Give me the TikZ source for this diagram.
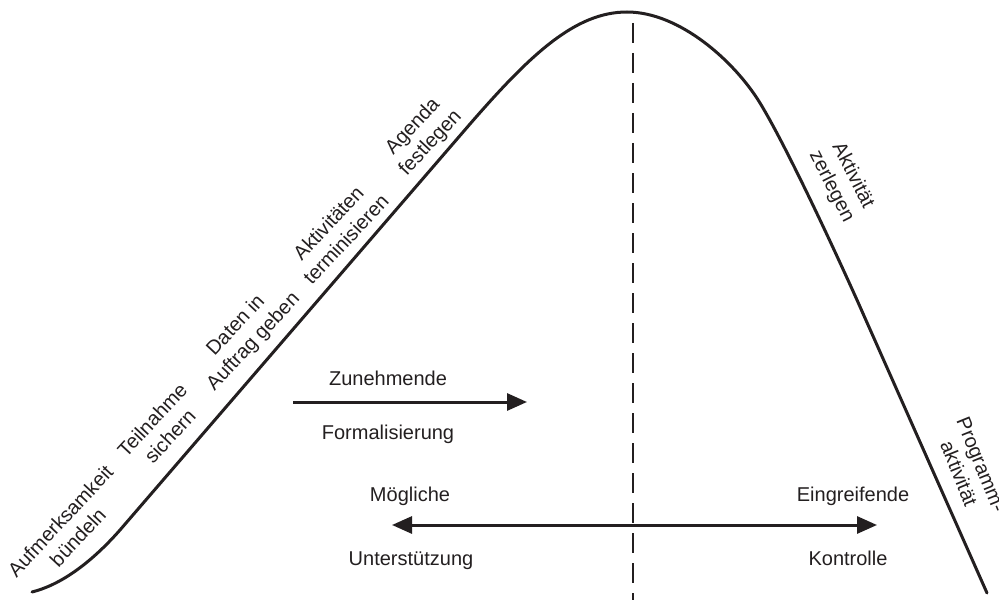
\documentclass[tikz,border=0pt]{standalone}
\usepackage{fontspec}
\setmainfont{Liberation Sans}
\usetikzlibrary{arrows.meta}
\definecolor{ink}{RGB}{35,31,32}
\begin{document}
\begin{tikzpicture}[x=1bp,y=-1bp,
  font=\fontsize{20bp}{24bp}\selectfont,
  curve/.style={line width=3bp, draw=ink, line join=round, line cap=round},
  arr/.style={line width=3bp, draw=ink, -{Triangle[length=20bp,width=17bp]}},
  darr/.style={line width=3bp, draw=ink, {Triangle[length=20bp,width=17bp]}-{Triangle[length=20bp,width=17bp]}},
  midline/.style={line width=2bp, draw=ink, dash pattern=on 20bp off 10bp},
  lbl/.style={text=ink, inner sep=0pt},
  slopelbl/.style={lbl, align=center}]
\useasboundingbox (0,0) rectangle (999,600);

% curve
\coordinate (c0) at (32,592);
\coordinate (c1) at (120,530);
\coordinate (c2) at (470,124);
\coordinate (peak) at (627,12);
\coordinate (c3) at (760,103);
\coordinate (c4) at (857,300);
\coordinate (c5) at (987,593);
\draw[curve] (c0) .. controls (60,585) and (90,564) .. (c1) -- (c2)
  .. controls (530,55) and (575,12) .. (peak)
  .. controls (680,12) and (735,62) .. (c3)
  .. controls (785,144) and (830,240) .. (c4) -- (c5);

% dashed centre line
\coordinate (dtop) at (633,23);
\coordinate (dbot) at (633,600);
\draw[midline] (dtop) -- (dbot);

% arrows
\coordinate (fA) at (293,402);
\coordinate (fB) at (527,402);
\draw[arr] (fA) -- (fB);
\coordinate (sA) at (392,525);
\coordinate (sB) at (877,525);
\draw[darr] (sA) -- (sB);

% horizontal labels
\node[lbl, anchor=base] (zun) at (388,385) {Zunehmende};
\node[lbl, anchor=base] (form) at (388,439) {Formalisierung};
\node[lbl, anchor=base] (moeg) at (410,501) {Mögliche};
\node[lbl, anchor=base] (unt) at (411,565) {Unterstützung};
\node[lbl, anchor=base] (eing) at (853,501) {Eingreifende};
\node[lbl, anchor=base] (kont) at (848,565) {Kontrolle};

% slope labels
\node[slopelbl, rotate=47] (l1) at (69,529) {Aufmerksamkeit\\bündeln};
\node[slopelbl, rotate=47] (l2) at (161,428) {Teilnahme\\sichern};
\node[slopelbl, rotate=47] (l3) at (245,334) {Daten in\\Auftrag geben};
\node[slopelbl, rotate=47] (l4) at (337,231) {Aktivitäten\\terminisieren};
\node[slopelbl, rotate=47] (l5) at (422,135) {Agenda\\festlegen};
\node[slopelbl, rotate=-63] (r1) at (842,181) {Aktivität\\zerlegen};
\node[slopelbl, rotate=-68] (r2) at (970,469) {Programm-\\aktivität};
\end{tikzpicture}
\end{document}
